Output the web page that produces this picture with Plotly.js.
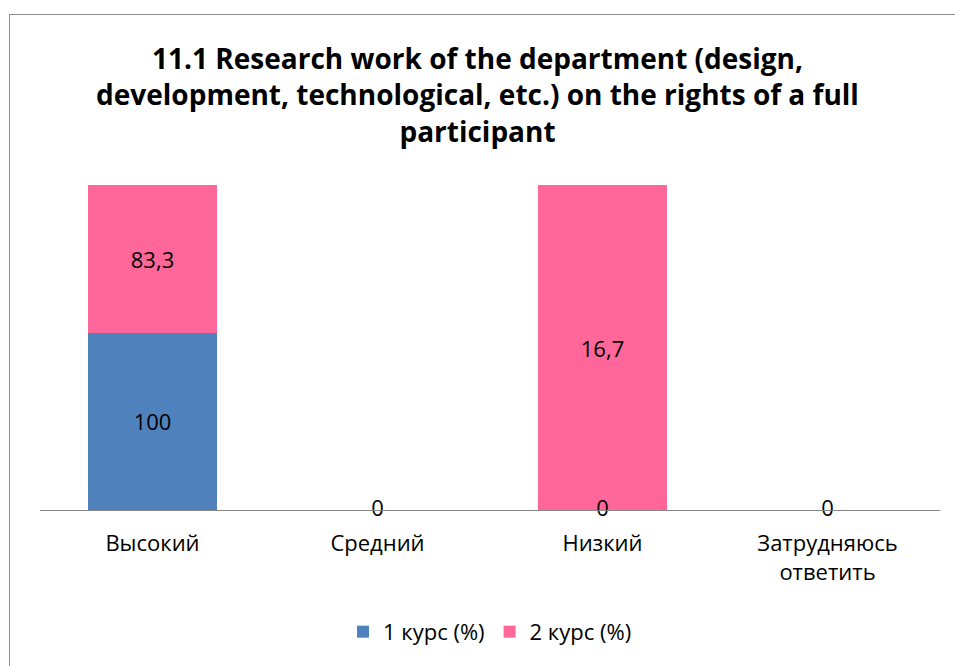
<!DOCTYPE html>
<html>
<head>
<meta charset="utf-8">
<script src="https://cdn.plot.ly/plotly-3.0.1.min.js"></script>
<style>
html,body{margin:0;padding:0;background:#fff;overflow:hidden;}
#frame{position:absolute;left:9px;top:14px;width:1000px;height:700px;border:1px solid #8c8c8c;box-sizing:border-box;}
#chart{position:absolute;left:0;top:0;width:955px;height:666px;}
</style>
</head>
<body>
<div id="frame"></div>
<div id="chart"></div>
<script>
const categories = ['Высокий', 'Средний', 'Низкий', 'Затрудняюсь<br>ответить'];
const course1 = [100, 0, 0, 0];
const course2 = [83.3, 0, 16.7, 0];
const seriesNames = ['1 курс (%)', '2 курс (%)'];
const colors = ['#4F81BD', '#FF6699'];

const fmt = v => String(v).replace('.', ',');
const FONT = 'Open Sans, sans-serif';
const labelFont = {family: FONT, size: 22, color: '#000'};

const traces = [course1, course2].map((vals, i) => ({
  type: 'bar',
  name: seriesNames[i],
  x: categories,
  y: vals,
  marker: {color: colors[i]},
  text: vals.map(v => v === 0 ? '' : fmt(v)),
  textposition: 'inside',
  insidetextanchor: 'middle',
  textangle: 0,
  textfont: labelFont,
  hoverinfo: 'x+y+name'
}));

// zero-value labels sit on the baseline
const zeroCats = categories.filter((c, k) => course1[k] === 0 || course2[k] === 0);
traces.push({
  type: 'scatter',
  mode: 'text',
  x: zeroCats,
  y: zeroCats.map(() => 0),
  text: zeroCats.map(() => '0'),
  textposition: 'middle center',
  textfont: labelFont,
  showlegend: false,
  hoverinfo: 'skip',
  cliponaxis: false
});

const layout = {
  width: 955,
  height: 666,
  paper_bgcolor: 'rgba(0,0,0,0)',
  plot_bgcolor: 'rgba(0,0,0,0)',
  barmode: 'stack',
  barnorm: 'percent',
  bargap: 0.43,
  separators: ',.',
  margin: {l: 40, r: 15, t: 185, b: 156},
  title: {
    text: '<b>11.1 Research work of the department (design,<br>development, technological, etc.) on the rights of a full<br>participant</b>',
    font: {family: FONT, size: 28, color: '#000'},
    x: 0.5, xanchor: 'center',
    y: 1 - 69/666, yref: 'container', yanchor: 'middle'
  },
  xaxis: {
    type: 'category',
    showgrid: false,
    showline: true,
    linecolor: '#868686',
    linewidth: 1,
    ticks: 'outside',
    ticklen: 14,
    tickcolor: 'rgba(0,0,0,0)',
    tickfont: {family: FONT, size: 22, color: '#000'},
    zeroline: false
  },
  yaxis: {
    range: [0, 100],
    visible: false,
    showgrid: false,
    zeroline: false
  },
  showlegend: true,
  legend: {
    orientation: 'h',
    x: 0.5, xanchor: 'center',
    y: -0.375, yanchor: 'middle',
    font: {family: FONT, size: 22, color: '#000'},
    traceorder: 'normal',
    itemwidth: 30
  }
};

Plotly.newPlot('chart', traces, layout, {displayModeBar: false});
</script>
</body>
</html>
